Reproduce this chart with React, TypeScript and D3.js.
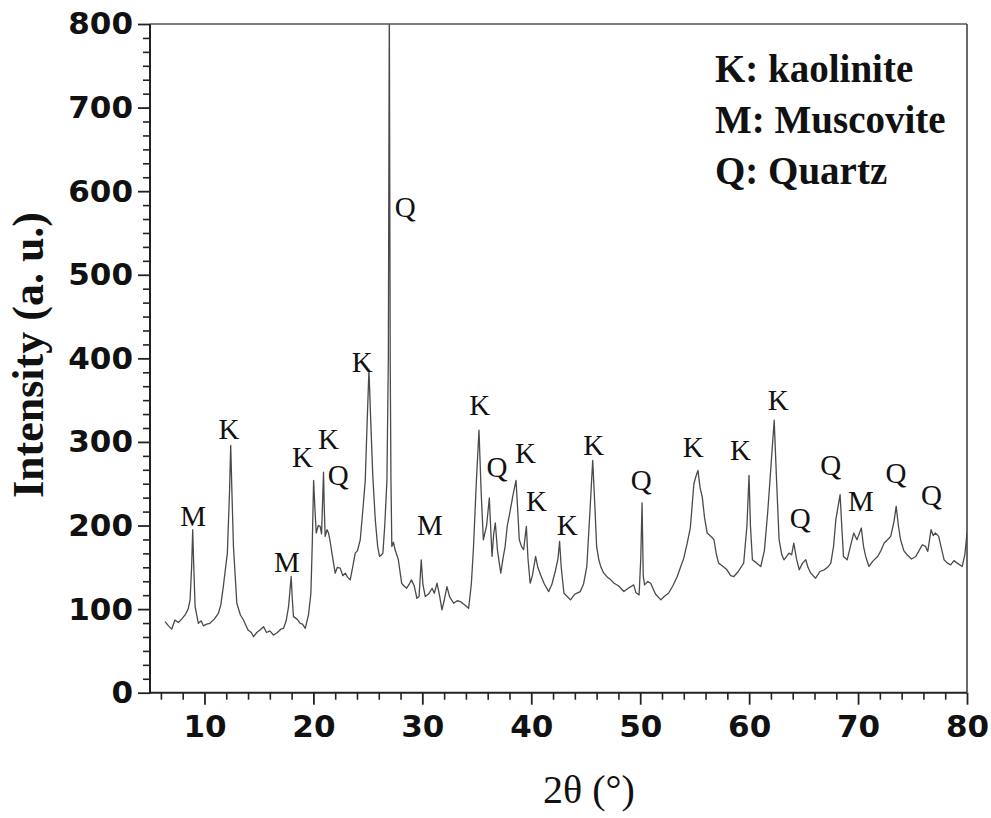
import React, { useRef, useEffect } from 'react';
import * as d3 from 'd3';

// XRD pattern: 2theta (deg) and intensity (a.u.)
const twoTheta = [
  6.38, 6.7, 6.99, 7.29, 7.6, 7.91, 8.22, 8.5, 8.68, 8.82, 8.92, 9.02, 9.14, 9.44, 9.7, 9.9,
  10.2, 10.5, 10.9, 11.28, 11.5, 11.73, 12.1, 12.3, 12.41, 12.52, 12.66, 12.97, 13.3, 13.58,
  14.0, 14.3, 14.5, 14.8, 15.1, 15.42, 15.7, 16.0, 16.34, 16.7, 17.0, 17.26, 17.5, 17.72,
  17.96, 18.05, 18.17, 18.5, 18.79, 19.0, 19.25, 19.4, 19.55, 19.77, 19.9, 20.02, 20.14,
  20.26, 20.45, 20.62, 20.75, 20.93, 21.0, 21.08, 21.25, 21.39, 21.55, 21.7, 22.0, 22.2,
  22.46, 22.7, 22.92, 23.15, 23.38, 23.6, 23.84, 24.05, 24.3, 24.55, 24.76, 24.95, 25.1,
  25.25, 25.45, 25.68, 25.9, 26.07, 26.25, 26.38, 26.55, 26.75, 26.88, 26.97, 27.05, 27.12,
  27.2, 27.35, 27.5, 27.65, 27.8, 28.1, 28.3, 28.56, 28.8, 29.0, 29.25, 29.5, 29.7, 29.9,
  30.05, 30.27, 30.57, 30.9, 31.1, 31.35, 31.6, 31.8, 32.0, 32.26, 32.5, 32.87, 33.2, 33.5,
  33.9, 34.25, 34.5, 34.7, 34.95, 35.2, 35.4, 35.6, 35.9, 36.15, 36.3, 36.4, 36.55, 36.7,
  36.9, 37.2, 37.4, 37.6, 37.8, 38.0, 38.3, 38.6, 38.75, 38.9, 39.1, 39.3, 39.55, 39.7, 39.9,
  40.1, 40.4, 40.6, 40.85, 41.2, 41.6, 41.9, 42.2, 42.45, 42.6, 42.75, 43.0, 43.3, 43.6, 44.0,
  44.5, 44.8, 45.1, 45.4, 45.64, 45.85, 46.0, 46.2, 46.4, 46.66, 47.0, 47.3, 47.6, 48.0, 48.5,
  48.9, 49.4, 49.6, 49.9, 50.05, 50.17, 50.28, 50.4, 50.7, 50.96, 51.4, 51.9, 52.2, 52.6,
  53.0, 53.4, 53.7, 54.0, 54.3, 54.6, 54.93, 55.1, 55.3, 55.5, 55.7, 55.9, 56.15, 56.5, 56.77,
  57.0, 57.2, 57.4, 57.97, 58.3, 58.6, 59.0, 59.5, 59.8, 59.99, 60.12, 60.3, 60.7, 61.07,
  61.4, 61.7, 62.0, 62.3, 62.5, 62.75, 63.0, 63.2, 63.66, 63.9, 64.1, 64.35, 64.6, 64.9, 65.2,
  65.4, 65.66, 66.1, 66.5, 66.9, 67.2, 67.5, 67.75, 67.96, 68.35, 68.5, 68.66, 69.0, 69.3,
  69.6, 69.9, 70.1, 70.3, 70.5, 70.7, 71.0, 71.4, 71.8, 72.1, 72.4, 72.7, 73.0, 73.3, 73.5,
  73.7, 73.9, 74.2, 74.5, 74.9, 75.3, 75.6, 75.9, 76.2, 76.4, 76.7, 76.9, 77.1, 77.4, 77.7,
  77.9, 78.2, 78.5, 78.8, 79.1, 79.56, 79.8, 80.0
];
const intensity = [
  85, 80, 76, 87, 84, 88, 93, 100, 111, 150, 195, 150, 103, 83, 86, 80,
  82, 83, 88, 95, 105, 127, 167, 240, 296, 240, 175, 107, 93, 87,
  75, 72, 67, 72, 75, 79, 72, 74, 69, 72, 76, 77, 86, 103,
  139, 115, 91, 88, 83, 82, 77, 85, 93, 119, 180, 254, 220,
  191, 200, 199, 190, 264, 220, 187, 195, 191, 180, 167, 143, 150,
  149, 140, 143, 138, 135, 150, 167, 170, 183, 220, 254, 330, 386,
  330, 260, 207, 175, 163, 165, 167, 200, 254, 400, 830, 400, 254,
  175, 180, 171, 165, 159, 131, 128, 125, 130, 135, 128, 113, 115, 159,
  130, 115, 118, 125, 119, 131, 115, 99, 110, 127, 115, 107, 110, 109,
  105, 101, 130, 175, 250, 314, 240, 183, 200, 233, 190, 163, 190, 203,
  170, 143, 160, 175, 200, 213, 235, 254, 220, 183, 175, 171, 199, 160, 131,
  140, 163, 150, 141, 130, 121, 130, 145, 160, 181, 150, 119, 115, 111, 118,
  121, 130, 151, 220, 278, 220, 175, 159, 150, 143, 138, 135, 131, 128, 121,
  125, 129, 120, 117, 160, 227, 140, 129, 133, 131, 118, 111, 115, 119,
  128, 139, 150, 161, 178, 197, 250, 258, 266, 245, 234, 210, 191, 187, 183,
  165, 155, 153, 147, 140, 139, 145, 155, 200, 260, 200, 159, 155, 151,
  170, 215, 270, 326, 260, 183, 165, 159, 167, 165, 179, 160, 147, 155, 159,
  150, 143, 137, 145, 147, 150, 155, 175, 207, 237, 200, 163, 159, 175,
  191, 183, 190, 197, 175, 163, 151, 158, 163, 170, 179, 183, 187, 205, 223,
  200, 183, 170, 165, 160, 163, 170, 177, 175, 169, 195, 188, 191, 187, 170,
  159, 155, 153, 158, 155, 151, 165, 191
];

// phase labels above the peaks: letter, 2theta position, baseline level
const peakText = ['M', 'K', 'M', 'K', 'K', 'Q', 'K', 'Q', 'M', 'K', 'Q', 'K', 'K', 'K', 'K', 'Q', 'K', 'K', 'K', 'Q', 'Q', 'M', 'Q', 'Q'];
const peakTheta = [8.95, 12.26, 17.56, 19.0, 21.39, 22.28, 24.49, 28.44, 30.7, 35.26, 36.86, 39.47, 40.48, 43.3, 45.74, 50.1, 54.87, 59.2, 62.66, 64.68, 67.5, 70.26, 73.47, 76.75];
const peakLevel = [199, 303, 144, 270, 291, 248, 384, 569, 189, 332, 258, 275, 217, 189, 284, 243, 282, 278, 338, 197, 260, 217, 251, 225];

const legendLines = ['K: kaolinite', 'M: Muscovite', 'Q: Quartz'];

const xMajor = [10, 20, 30, 40, 50, 60, 70, 80];
const yMajor = [0, 100, 200, 300, 400, 500, 600, 700, 800];

export default function App() {
  const svgRef = useRef(null);

  useEffect(() => {
    const svg = d3.select(svgRef.current);
    svg.selectAll('*').remove();

    const left = 150, right = 967, top = 24, bottom = 692.7;
    const x = d3.scaleLinear().domain([5, 80]).range([left, right]);
    const y = d3.scaleLinear().domain([0, 800]).range([bottom, top]);

    const numFont = '"DejaVu Sans", sans-serif';
    const serif = '"Liberation Serif", "Times New Roman", serif';

    // minor ticks
    const xMinor = d3.range(6, 80.01, 2).filter(v => !xMajor.includes(v));
    const yMinor = d3.range(0, 800.01, 100 / 6).filter(v => Math.abs(v / 100 - Math.round(v / 100)) > 0.01);

    svg.append('g')
      .attr('transform', `translate(0,${bottom})`)
      .call(d3.axisBottom(x).tickValues(xMinor).tickSize(7).tickFormat(() => '').tickSizeOuter(0))
      .call(g => g.select('.domain').remove())
      .selectAll('line').attr('stroke', '#222').attr('stroke-width', 1.6);

    svg.append('g')
      .attr('transform', `translate(${left},0)`)
      .call(d3.axisLeft(y).tickValues(yMinor).tickSize(7).tickFormat(() => '').tickSizeOuter(0))
      .call(g => g.select('.domain').remove())
      .selectAll('line').attr('stroke', '#222').attr('stroke-width', 1.6);

    const xAxis = svg.append('g')
      .attr('transform', `translate(0,${bottom})`)
      .call(d3.axisBottom(x).tickValues(xMajor).tickSize(12).tickPadding(10).tickSizeOuter(0));
    xAxis.select('.domain').remove();
    xAxis.selectAll('line').attr('stroke', '#222').attr('stroke-width', 1.8);
    xAxis.selectAll('text')
      .attr('fill', '#111')
      .style('font-family', numFont)
      .style('font-weight', 'bold')
      .style('font-size', '31px');

    const yAxis = svg.append('g')
      .attr('transform', `translate(${left},0)`)
      .call(d3.axisLeft(y).tickValues(yMajor).tickSize(12).tickPadding(5).tickSizeOuter(0));
    yAxis.select('.domain').remove();
    yAxis.selectAll('line').attr('stroke', '#222').attr('stroke-width', 1.8);
    yAxis.selectAll('text')
      .attr('fill', '#111')
      .style('font-family', numFont)
      .style('font-weight', 'bold')
      .style('font-size', '31px');

    // clip so the quartz peak stops at the frame
    svg.append('clipPath').attr('id', 'plotclip')
      .append('rect')
      .attr('x', left).attr('y', top)
      .attr('width', right - left).attr('height', bottom - top);

    const pts = twoTheta.map((t, i) => [t, intensity[i]]);
    const line = d3.line()
      .x(d => x(d[0]))
      .y(d => y(d[1]));

    svg.append('path')
      .datum(pts)
      .attr('clip-path', 'url(#plotclip)')
      .attr('fill', 'none')
      .attr('stroke', '#4a4a4a')
      .attr('stroke-width', 1.3)
      .attr('stroke-linejoin', 'round')
      .attr('d', line);

    // frame
    svg.append('line').attr('x1', left).attr('x2', right).attr('y1', top).attr('y2', top)
      .attr('stroke', '#555').attr('stroke-width', 1.6);
    svg.append('line').attr('x1', right).attr('x2', right).attr('y1', top).attr('y2', bottom)
      .attr('stroke', '#444').attr('stroke-width', 1.6);
    svg.append('line').attr('x1', left).attr('x2', left).attr('y1', top).attr('y2', bottom + 1)
      .attr('stroke', '#222').attr('stroke-width', 2);
    svg.append('line').attr('x1', left - 1).attr('x2', right).attr('y1', bottom).attr('y2', bottom)
      .attr('stroke', '#222').attr('stroke-width', 2);

    // peak labels
    svg.append('g')
      .selectAll('text')
      .data(peakText)
      .join('text')
      .attr('x', (d, i) => x(peakTheta[i]))
      .attr('y', (d, i) => y(peakLevel[i]))
      .attr('text-anchor', 'middle')
      .attr('fill', '#111')
      .style('font-family', serif)
      .style('font-size', '29px')
      .text(d => d);

    // legend
    svg.append('g')
      .selectAll('text')
      .data(legendLines)
      .join('text')
      .attr('x', 715)
      .attr('y', (d, i) => 82 + i * 51)
      .attr('fill', '#111')
      .style('font-family', serif)
      .style('font-weight', 'bold')
      .style('font-size', '39px')
      .text(d => d);

    // axis titles
    svg.append('text')
      .attr('transform', 'translate(43,355) rotate(-90)')
      .attr('text-anchor', 'middle')
      .attr('fill', '#111')
      .style('font-family', serif)
      .style('font-weight', 'bold')
      .style('font-size', '44px')
      .text('Intensity (a. u.)');

    svg.append('text')
      .attr('x', 543)
      .attr('y', 803)
      .attr('fill', '#111')
      .style('font-family', serif)
      .style('font-size', '40px')
      .text('2θ (°)');
  }, []);

  return (
    <svg ref={svgRef} width={991} height={818}
      style={{ position: 'absolute', left: 0, top: 0, background: '#fff' }} />
  );
}
